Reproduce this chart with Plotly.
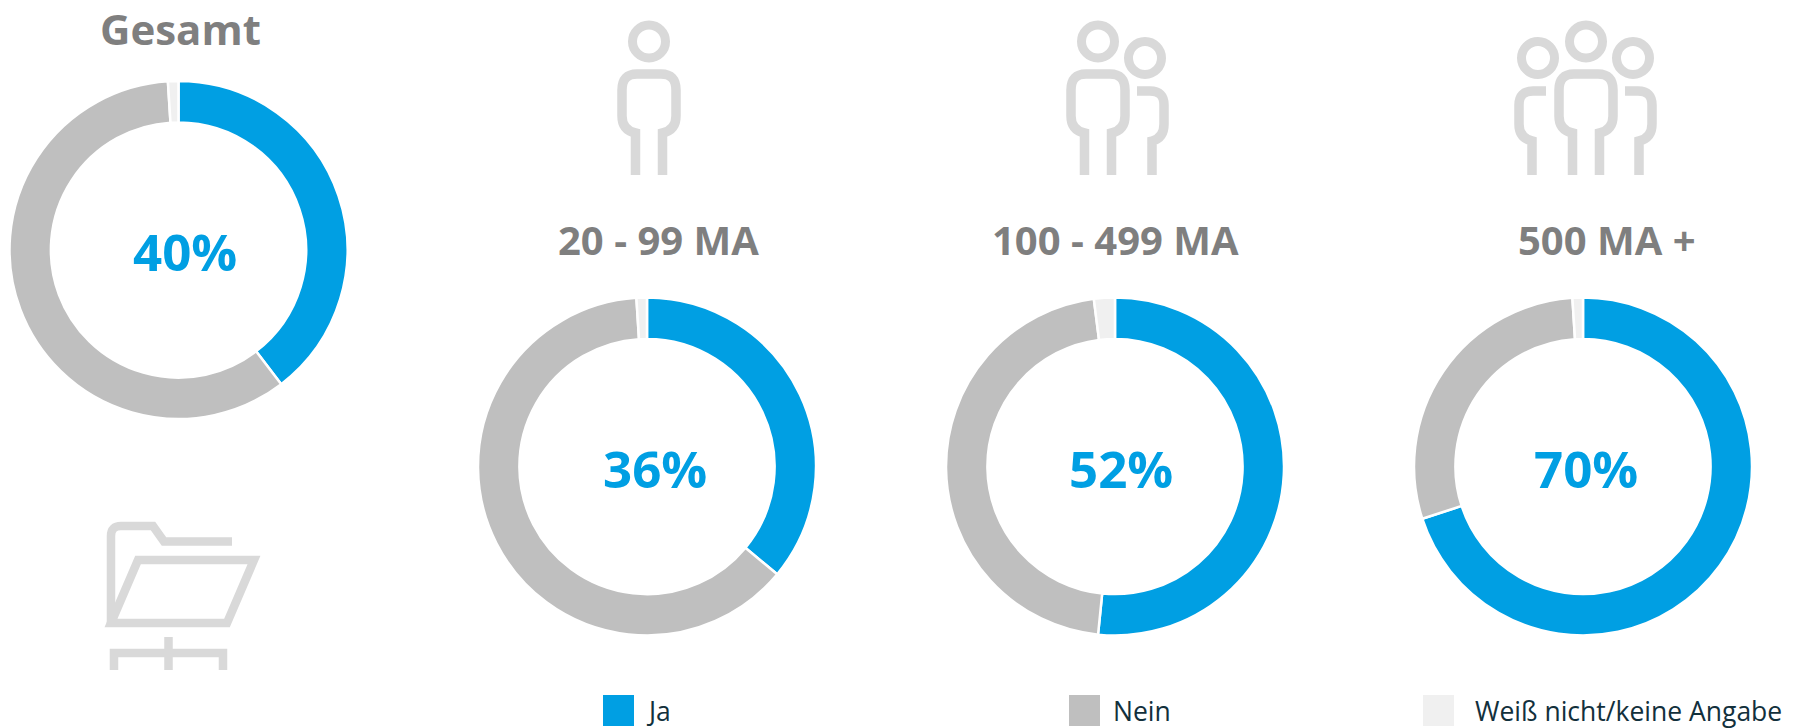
import plotly.graph_objects as go

W, H = 1796, 728
BLUE, GREY, LIGHT = "#009fe3", "#bfbfbf", "#f0f0f0"
ICON = "#d9d9d9"
TITLE = "#7f7f7f"
FONT = "Open Sans"

# ---- data ----
categories = ["Ja", "Nein", "Weiß nicht/keine Angabe"]
gesamt = [39.6, 59.4, 1]
ma_20_99 = [36, 63, 1]
ma_100_499 = [51.6, 46.4, 2]
ma_500 = [70, 29, 1]
center_labels = ["40%", "36%", "52%", "70%"]
group_titles = ["Gesamt", "20 - 99 MA", "100 - 499 MA", "500 MA +"]

# ---- layout (pixels) ----
donuts = [
    (gesamt, 178.5, 250, 169, center_labels[0], 185),
    (ma_20_99, 647, 466.5, 169, center_labels[1], 655),
    (ma_100_499, 1115, 466.5, 169, center_labels[2], 1121),
    (ma_500, 1583, 466.5, 169, center_labels[3], 1586),
]
title_pos = [(180, 28.5), (658, 240), (1115, 240), (1607, 240)]


def px(x):
    return x / W


def py(y):
    return 1 - y / H


def path(cmds):
    out = []
    for c in cmds:
        op, *v = c
        pts = [f"{px(v[i]):.5f},{py(v[i + 1]):.5f}" for i in range(0, len(v), 2)]
        out.append(op + " ".join(pts))
    return " ".join(out)


def stroke_path(cmds, w=9.5):
    return dict(type="path", xref="paper", yref="paper", path=path(cmds),
                line=dict(color=ICON, width=w), fillcolor="rgba(0,0,0,0)", layer="below")


def head(cx, cy, r=16.5):
    return dict(type="circle", xref="paper", yref="paper", x0=px(cx - r), x1=px(cx + r),
                y0=py(cy + r), y1=py(cy - r), line=dict(color=ICON, width=9),
                fillcolor="rgba(0,0,0,0)", layer="below")


def person(cx):
    l, r, ll, rl = cx - 27, cx + 27, cx - 13.5, cx + 13.5
    return [
        head(cx, 41.5),
        stroke_path([("M", ll, 175), ("L", ll, 133), ("Q", l, 130, l, 116), ("L", l, 90),
                     ("Q", l, 74, l + 15, 74), ("L", r - 15, 74), ("Q", r, 74, r, 90),
                     ("L", r, 116), ("Q", r, 130, rl, 133), ("L", rl, 175)]),
    ]


def side(hx, start, edge, leg):
    s = 1 if edge > start else -1
    return [
        head(hx, 58),
        stroke_path([("M", start, 91), ("L", edge - s * 14, 91), ("Q", edge, 91, edge, 105),
                     ("L", edge, 124), ("Q", edge, 138, leg, 141), ("L", leg, 175)]),
    ]


shapes = []
shapes += person(649)
shapes += person(1098)
shapes += side(1145, 1137, 1164, 1152)
shapes += person(1586)
shapes += side(1633, 1625, 1652, 1639)
shapes += side(1538, 1546, 1519, 1532)

# folder icon
shapes.append(stroke_path([("M", 111, 623), ("L", 111, 536), ("Q", 111, 526, 121, 526), ("L", 153, 526),
                           ("L", 164, 541.5), ("L", 232, 541.5)], 8.5))
shapes.append(stroke_path([("M", 111, 623), ("L", 138, 560), ("L", 254, 560), ("L", 227, 623), ("Z",)], 8.5))
shapes.append(stroke_path([("M", 114, 670), ("L", 114, 653), ("L", 223, 653), ("L", 223, 670)], 8.5))
shapes.append(stroke_path([("M", 168.5, 637), ("L", 168.5, 670)], 8.5))

fig = go.Figure()
for vals, cx, cy, r, lab, lx in donuts:
    fig.add_trace(go.Pie(
        labels=categories, values=vals, sort=False, direction="clockwise", rotation=0,
        hole=0.755, textinfo="none", showlegend=False,
        marker=dict(colors=[BLUE, GREY, LIGHT], line=dict(color="#ffffff", width=2.5)),
        domain=dict(x=[px(cx - r), px(cx + r)], y=[py(cy + r), py(cy - r)]),
    ))

ann = []
for (vals, cx, cy, r, lab, lx) in donuts:
    ann.append(dict(x=px(lx), y=py(cy + 1), text=f"<b>{lab}</b>", font=dict(size=51, color=BLUE, family=FONT)))
for t, (x, y) in zip(group_titles, title_pos):
    ann.append(dict(x=px(x), y=py(y), text=f"<b>{t}</b>",
                    font=dict(size=42 if t == "Gesamt" else 40, color=TITLE, family=FONT)))

legend_x = [603, 1069, 1423]
legend_text_x = [643.5, 1110.5, 1472.5]
for name, col, x, tx in zip(categories, [BLUE, GREY, LIGHT], legend_x, legend_text_x):
    shapes.append(dict(type="rect", xref="paper", yref="paper", x0=px(x), x1=px(x + 31),
                       y0=py(726), y1=py(695), fillcolor=col, line=dict(width=0)))
    ann.append(dict(x=px(tx), y=py(710.5), text=name, xanchor="left",
                    font=dict(size=26.5, color="#12303c", family=FONT)))
for a in ann:
    a.update(xref="paper", yref="paper", showarrow=False)
    a.setdefault("xanchor", "center")
    a.setdefault("yanchor", "middle")

fig.update_layout(width=W, height=H, margin=dict(l=0, r=0, t=0, b=0, pad=0),
                  paper_bgcolor="white", plot_bgcolor="white", shapes=shapes, annotations=ann)
fig.write_html("out.html", config={"displayModeBar": False},
               post_script="document.body.style.margin='0';document.body.style.overflow='hidden';")
